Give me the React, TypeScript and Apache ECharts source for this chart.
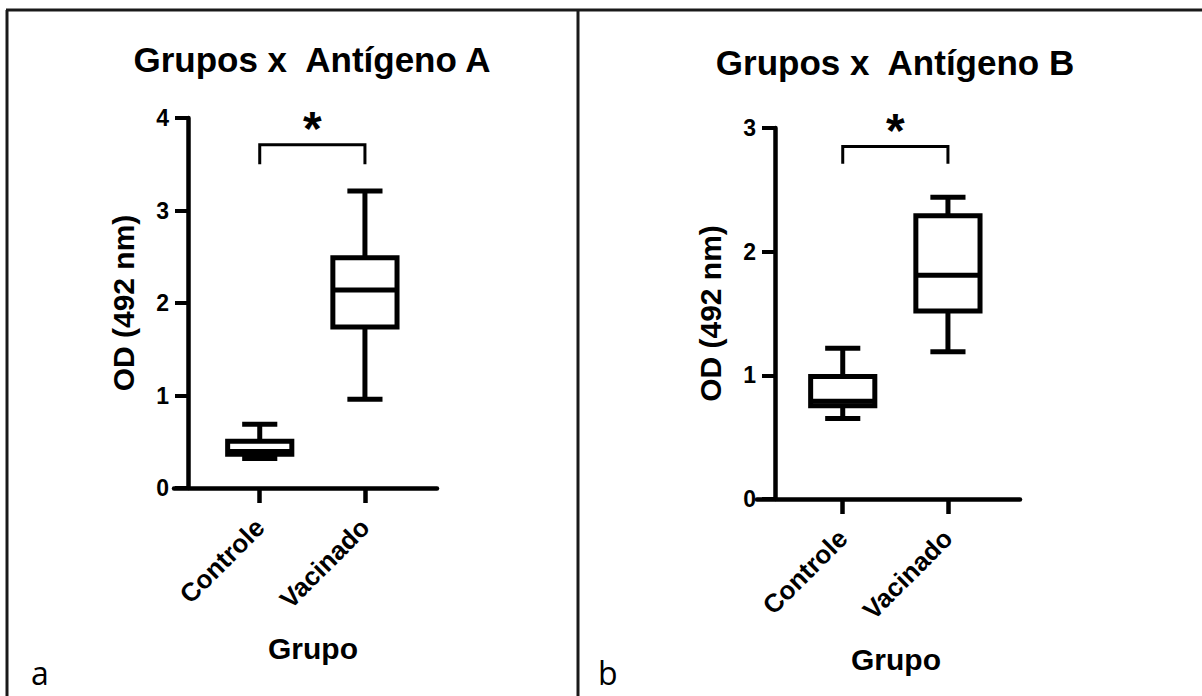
import React, { useEffect, useRef } from 'react';
import * as echarts from 'echarts';

// ---------- data ----------
const categories = ['Controle', 'Vacinado'];
// each box: [min, Q1, median, Q3, max]
const boxesA = [
  [0.32, 0.365, 0.395, 0.505, 0.69],
  [0.96, 1.74, 2.14, 2.49, 3.21],
];
const boxesB = [
  [0.65, 0.755, 0.79, 0.99, 1.22],
  [1.19, 1.52, 1.81, 2.29, 2.44],
];
const yMaxA = 4;
const yMaxB = 3;
// significance bracket: [bar level, leg end level]
const bracketA = [3.71, 3.5];
const bracketB = [2.85, 2.71];
const sigLabel = '*';
const titles = ['Grupos x  Antígeno A', 'Grupos x  Antígeno B'];
const yTitle = 'OD (492 nm)';
const xTitle = 'Grupo';
const panelLetters = ['a', 'b'];

// ---------- style ----------
const FONT = "'Liberation Sans', Arial, Helvetica, sans-serif";
const INK = '#000';

function boxRenderer(_params: any, api: any) {
  const xv = api.value(0);
  const [cx, yMin] = api.coord([xv, api.value(1)]);
  const yQ1 = api.coord([xv, api.value(2)])[1];
  const yMed = api.coord([xv, api.value(3)])[1];
  const yQ3 = api.coord([xv, api.value(4)])[1];
  const yMx = api.coord([xv, api.value(5)])[1];
  const unit = api.size([1, 0])[0];
  const half = unit * 0.305;
  const cap = unit * 0.167;
  const st = { stroke: INK, lineWidth: 5, fill: null, lineCap: 'butt' };
  return {
    type: 'group',
    children: [
      { type: 'line', shape: { x1: cx, y1: yQ3, x2: cx, y2: yMx }, style: st },
      { type: 'line', shape: { x1: cx, y1: yQ1, x2: cx, y2: yMin }, style: st },
      { type: 'line', shape: { x1: cx - cap, y1: yMx, x2: cx + cap, y2: yMx }, style: st },
      { type: 'line', shape: { x1: cx - cap, y1: yMin, x2: cx + cap, y2: yMin }, style: st },
      {
        type: 'rect',
        shape: { x: cx - half, y: yQ3, width: half * 2, height: yQ1 - yQ3 },
        style: { fill: '#fff', stroke: INK, lineWidth: 5, lineJoin: 'miter' },
      },
      { type: 'line', shape: { x1: cx - half, y1: yMed, x2: cx + half, y2: yMed }, style: st },
    ],
  };
}

function bracketRenderer(_params: any, api: any) {
  const [x1, yBar] = api.coord([api.value(0), api.value(2)]);
  const x2 = api.coord([api.value(1), api.value(2)])[0];
  const yLeg = api.coord([api.value(0), api.value(3)])[1];
  return {
    type: 'group',
    children: [
      {
        type: 'polyline',
        shape: { points: [[x1, yLeg], [x1, yBar], [x2, yBar], [x2, yLeg]] },
        style: { stroke: INK, lineWidth: 3, fill: null },
      },
      {
        type: 'text',
        x: (x1 + x2) / 2,
        y: yBar - 16,
        style: {
          text: sigLabel,
          fill: INK,
          font: `bold 48px ${FONT}`,
          align: 'center',
          verticalAlign: 'middle',
        },
      },
    ],
  };
}

function buildPanel(
  idx: number,
  grid: { left: number; top: number; width: number; height: number },
  yOffset: number,
  yMax: number,
  boxes: number[][],
  bracket: number[]
) {
  const gridOpt = { ...grid, containLabel: false, outerBoundsMode: 'none' };
  const xAxis = {
    gridIndex: idx,
    type: 'value',
    min: 0.185,
    max: 2.685,
    axisLine: { show: true, onZero: false, lineStyle: { color: INK, width: 4.5 } },
    axisTick: { show: true, customValues: [1, 2], length: 15, lineStyle: { color: INK, width: 4.5 } },
    axisLabel: {
      customValues: [1, 2],
      formatter: (v: number) => categories[Math.round(v) - 1] ?? '',
      rotate: 45,
      margin: 35,
      color: INK,
      fontSize: 26,
      fontWeight: 'bold',
      fontFamily: FONT,
    },
    splitLine: { show: false },
    name: xTitle,
    nameLocation: 'middle',
    nameGap: 145,
    nameTextStyle: { color: INK, fontSize: 30, fontWeight: 'bold', fontFamily: FONT, padding: [0, 0, 0, 15] },
  };
  const yAxis = {
    gridIndex: idx,
    type: 'value',
    min: 0,
    max: yMax,
    interval: 1,
    offset: yOffset,
    axisLine: { show: true, onZero: false, lineStyle: { color: INK, width: 4.5 } },
    axisTick: { show: true, length: 13, lineStyle: { color: INK, width: 4 } },
    axisLabel: { color: INK, fontSize: 23, fontWeight: 'bold', fontFamily: FONT, margin: 19 },
    splitLine: { show: false },
    name: yTitle,
    nameLocation: 'middle',
    nameGap: 50,
    nameTextStyle: { color: INK, fontSize: 30, fontWeight: 'bold', fontFamily: FONT },
  };
  const series = [
    {
      type: 'custom',
      xAxisIndex: idx,
      yAxisIndex: idx,
      renderItem: boxRenderer,
      encode: { x: 0, y: [1, 2, 3, 4, 5] },
      data: boxes.map((b, i) => [i + 1, ...b]),
      silent: true,
    },
    {
      type: 'custom',
      xAxisIndex: idx,
      yAxisIndex: idx,
      renderItem: bracketRenderer,
      encode: { x: [0, 1], y: [2, 3] },
      data: [[1, 2, bracket[0], bracket[1]]],
      silent: true,
    },
  ];
  return { gridOpt, xAxis, yAxis, series };
}

export default function App() {
  const ref = useRef<HTMLDivElement>(null);
  useEffect(() => {
    if (!ref.current) return;
    const chart = echarts.init(ref.current, null, { renderer: 'svg' });
    const pA = buildPanel(0, { left: 174, top: 118, width: 263, height: 370 }, -14, yMaxA, boxesA, bracketA);
    const pB = buildPanel(1, { left: 757, top: 128, width: 263, height: 371 }, -18, yMaxB, boxesB, bracketB);
    const frame = { stroke: '#1a1a1a', lineWidth: 3 };
    const option: any = {
      animation: false,
      backgroundColor: '#fff',
      grid: [pA.gridOpt, pB.gridOpt],
      xAxis: [pA.xAxis, pB.xAxis],
      yAxis: [pA.yAxis, pB.yAxis],
      series: [...pA.series, ...pB.series],
      graphic: [
        { type: 'line', shape: { x1: 6, y1: 10, x2: 1202, y2: 10 }, style: frame, silent: true },
        { type: 'line', shape: { x1: 7, y1: 10, x2: 7, y2: 696 }, style: frame, silent: true },
        { type: 'line', shape: { x1: 578, y1: 10, x2: 578, y2: 696 }, style: frame, silent: true },
        {
          type: 'text', x: 312, y: 59,
          style: { text: titles[0], fill: INK, font: `bold 35px ${FONT}`, align: 'center', verticalAlign: 'middle' },
        },
        {
          type: 'text', x: 895, y: 62,
          style: { text: titles[1], fill: INK, font: `bold 35px ${FONT}`, align: 'center', verticalAlign: 'middle' },
        },
        {
          type: 'text', x: 31, y: 672,
          style: { text: panelLetters[0], fill: INK, font: `32px 'Open Sans', sans-serif`, align: 'left', verticalAlign: 'middle' },
        },
        {
          type: 'text', x: 598, y: 672,
          style: { text: panelLetters[1], fill: INK, font: `32px 'Open Sans', sans-serif`, align: 'left', verticalAlign: 'middle' },
        },
      ],
    };
    chart.setOption(option);
    return () => chart.dispose();
  }, []);
  return (
    <div
      ref={ref}
      style={{ position: 'fixed', left: 0, top: 0, width: 1202, height: 696, background: '#fff' }}
    />
  );
}
